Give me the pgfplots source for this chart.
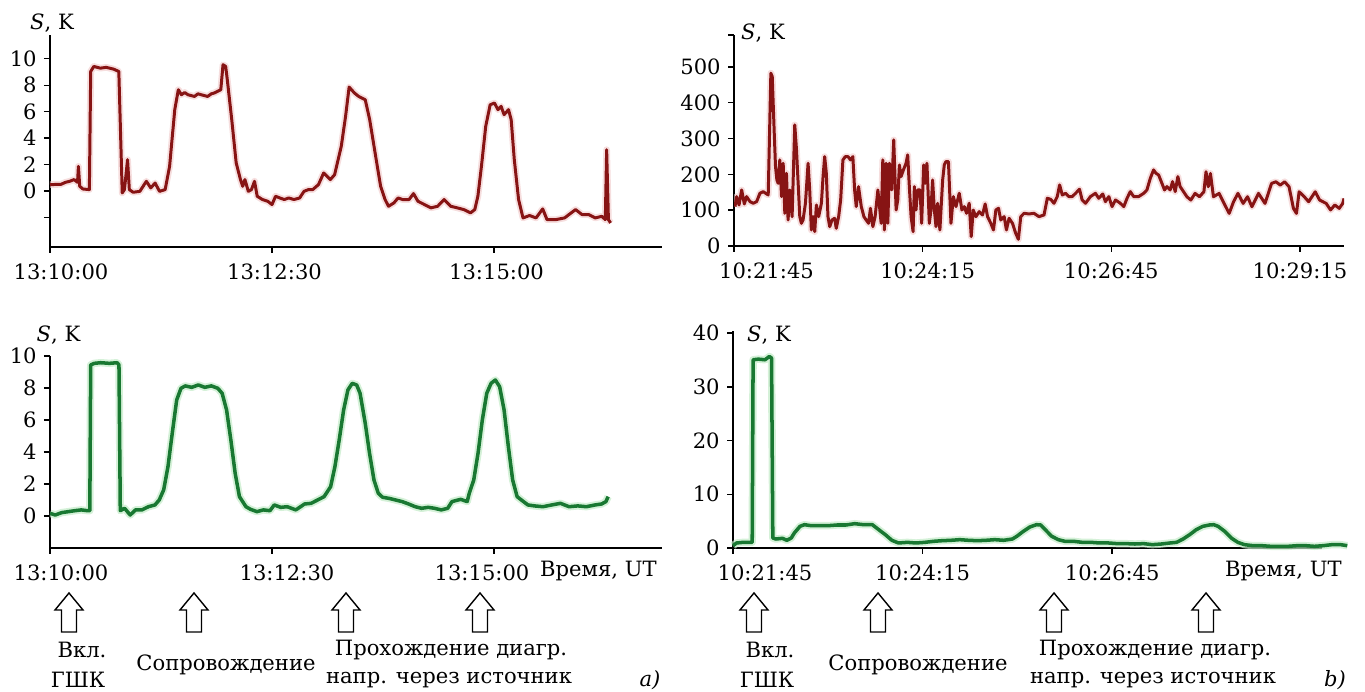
\documentclass[border=0pt]{standalone}
\usepackage{fontspec}
\setmainfont{DejaVu Serif}
\usepackage{pgfplots}
\usepackage{pgfplotstable}
\pgfplotsset{compat=1.18}
\definecolor{tred}{RGB}{135,20,20}
\definecolor{tredhalo}{RGB}{240,200,200}
\definecolor{tgreen}{RGB}{25,120,50}
\definecolor{tgreenhalo}{RGB}{195,235,200}

% panel a, upper trace (seconds after 13:10:00, S in K)
\pgfplotstableread{
t v
0 0.48
7.4 0.50
10.4 0.65
13.3 0.73
16.3 0.86
18.6 0.65
19.2 1.86
20.1 0.35
22.2 0.15
26.6 0.10
27.5 9.04
29.6 9.42
34.0 9.29
38.0 9.35
42.9 9.22
46.5 9.04
48.8 -0.15
50.3 0.10
52.4 2.37
53.6 0.10
56.2 -0.10
60.7 -0.03
65.1 0.73
68.1 0.23
71.0 0.60
74.0 -0.03
77.8 0.10
80.8 1.86
84.3 6.15
86.7 7.66
88.8 7.28
91.0 7.45
93.2 7.28
97.6 7.15
100.0 7.35
102.1 7.28
106.5 7.15
109.0 7.35
111.0 7.41
115.4 7.66
116.9 9.55
118.7 9.42
119.8 8.41
122.8 5.39
125.8 2.12
128.7 0.86
130.2 0.35
131.7 0.86
134.0 -0.03
136.1 0.10
138.2 0.73
140.0 -0.40
143.5 -0.65
147.1 -0.78
150.0 -1.03
152.4 -0.40
155.3 -0.53
158.3 -0.65
161.3 -0.53
164.8 -0.65
168.7 -0.53
171.6 -0.03
174.6 0.10
177.5 0.10
181.4 0.48
184.9 1.36
189.4 0.86
192.3 1.23
196.8 3.38
199.7 5.64
202.1 7.86
205.7 7.41
208.6 7.15
213.0 6.90
216.0 5.39
220.4 2.37
223.4 0.35
226.4 -0.65
228.7 -1.16
232.3 -0.91
235.2 -0.53
238.2 -0.65
242.6 -0.65
245.6 -0.20
248.6 -0.78
253.0 -1.03
257.4 -1.28
261.9 -1.16
266.3 -0.65
270.7 -1.16
275.2 -1.28
279.6 -1.41
284.1 -1.66
287.0 -1.41
289.1 -0.40
291.5 1.86
294.4 4.89
297.4 6.52
300.3 6.65
302.7 6.15
304.8 6.40
306.8 5.77
309.8 6.15
311.6 5.39
313.7 2.37
316.6 -0.65
319.6 -2.04
324.0 -1.86
328.4 -2.04
332.9 -1.36
335.8 -2.17
341.8 -2.17
347.7 -2.04
350.6 -1.79
355.1 -1.41
359.5 -1.79
364.0 -1.79
368.4 -2.04
372.8 -1.92
375.2 -2.17
376.1 3.12
377.3 -2.17
378.8 -2.42
}\dataAtop

% panel a, lower trace
\pgfplotstableread{
t v
0 0.17
3.5 0.06
7.9 0.21
12.3 0.27
16.7 0.33
21.1 0.38
25.5 0.33
26.9 0.33
27.5 9.44
29.9 9.54
34.3 9.58
40.1 9.54
45.4 9.58
46.6 9.44
47.5 0.33
50.4 0.48
54.2 0.06
57.7 0.38
62.1 0.38
66.5 0.58
70.9 0.69
73.8 1.00
76.8 1.63
79.7 3.08
82.6 5.17
85.6 7.25
88.5 7.98
91.4 8.13
95.8 8.04
100.2 8.19
104.6 8.04
109.0 8.13
113.4 7.98
116.3 7.67
119.3 6.63
122.2 4.75
125.1 2.67
128.0 1.21
132.4 0.58
135.4 0.42
139.8 0.27
144.2 0.38
148.6 0.33
151.5 0.69
155.9 0.54
160.3 0.58
166.1 0.38
172.0 0.75
176.4 0.79
180.8 1.00
185.2 1.21
189.6 1.83
192.5 3.08
195.4 4.75
198.4 6.63
201.3 7.88
204.2 8.29
207.2 8.19
209.5 7.67
213.0 5.79
215.9 3.92
218.9 2.25
221.8 1.42
224.7 1.17
229.1 1.10
233.5 1.00
237.9 0.90
242.3 0.75
246.7 0.58
251.1 0.48
255.5 0.54
259.9 0.48
264.3 0.38
268.7 0.48
271.6 0.90
277.5 1.04
281.9 0.90
283.3 1.42
286.3 2.25
289.2 3.92
292.1 6.00
295.1 7.67
298.0 8.29
300.9 8.50
303.8 8.08
306.8 6.63
309.7 4.33
312.6 2.25
315.6 1.21
318.5 1.00
322.9 0.69
327.3 0.63
333.1 0.58
339.0 0.69
344.9 0.79
350.7 0.58
356.6 0.63
362.4 0.58
368.3 0.69
372.7 0.75
375.6 0.90
377.1 1.21
}\dataAbot

% panel b, upper trace (seconds after 10:21:45)
\pgfplotstableread{
t v
0.8 109.9
2.1 137.8
4.0 114.5
6.1 156.4
8.2 117.3
10.0 137.8
12.7 123.8
15.3 119.2
18.0 123.8
20.6 147.1
23.2 151.8
27.2 142.4
29.3 482.3
30.4 473.0
32.0 314.7
33.0 221.6
34.1 184.3
35.1 175.0
36.4 240.2
37.8 137.8
39.1 230.9
40.4 91.2
41.7 203.0
43.0 72.6
44.4 156.4
46.2 81.9
48.3 338.0
49.7 268.1
51.0 175.0
52.3 81.9
53.6 63.3
54.9 72.6
56.8 119.2
58.9 230.9
60.2 156.4
61.5 44.7
62.9 81.9
64.2 40.0
65.5 114.5
67.3 81.9
69.5 119.2
70.8 193.6
72.1 249.5
73.4 203.0
74.7 81.9
76.1 54.0
77.9 72.6
80.0 77.3
81.3 49.3
83.2 81.9
84.8 128.5
86.6 240.2
88.5 249.5
90.6 249.5
92.7 240.2
94.5 249.5
95.9 156.4
97.2 109.9
99.0 165.7
101.2 109.9
103.3 81.9
105.1 72.6
107.0 63.3
108.5 105.2
110.4 54.0
112.2 81.9
114.4 156.4
115.7 109.9
117.0 63.3
118.3 240.2
119.6 44.7
121.0 230.9
122.3 63.3
123.6 230.9
125.4 156.4
127.0 296.1
128.9 100.5
130.2 128.5
131.5 226.2
132.8 193.6
134.7 212.3
136.8 230.9
138.1 254.2
139.4 165.7
140.8 81.9
142.4 40.0
143.4 165.7
144.7 100.5
146.0 156.4
147.9 156.4
149.2 63.3
150.8 226.2
152.1 175.0
153.4 230.9
155.3 63.3
156.6 100.5
157.9 184.3
159.3 100.5
160.6 54.0
161.9 119.2
163.7 44.7
165.9 184.3
167.2 226.2
168.5 235.5
170.5 235.5
172.5 63.3
174.4 137.8
176.5 109.9
179.1 147.1
181.2 100.5
183.1 109.9
184.9 91.2
187.0 119.2
188.6 26.1
190.2 100.5
192.3 81.9
195.0 95.9
197.6 86.6
199.7 117.3
201.6 81.9
204.2 63.3
206.3 44.7
208.2 100.5
210.3 105.2
212.1 72.6
214.8 81.9
216.6 44.7
218.7 77.3
221.4 63.3
224.0 35.4
226.1 18.6
228.0 81.9
230.6 91.2
234.6 89.4
238.5 91.2
242.5 81.9
246.5 86.6
249.1 133.1
251.8 130.3
254.4 119.2
257.0 137.8
258.9 170.4
261.0 142.4
263.6 147.1
266.3 137.8
268.9 137.8
271.6 147.1
274.7 158.3
276.8 128.5
279.5 119.2
283.4 137.8
287.4 147.1
290.0 133.1
293.2 145.2
295.3 123.8
298.0 137.8
300.6 109.9
303.3 128.5
307.2 119.2
309.9 109.9
312.5 133.1
315.1 151.8
317.8 137.8
321.7 137.8
325.7 147.1
328.3 156.4
331.0 189.0
333.6 212.3
335.5 203.0
337.6 198.3
339.7 179.7
342.3 156.4
344.2 165.7
346.8 156.4
348.7 179.7
350.8 151.8
352.9 193.6
354.7 165.7
357.4 151.8
360.0 137.8
363.2 128.2
366.6 146.8
370.1 137.5
373.6 151.4
375.3 207.2
377.1 165.4
378.8 202.5
381.2 137.5
385.7 146.8
391.0 109.6
393.7 91.0
397.2 123.6
400.7 146.8
404.8 118.9
408.3 137.5
411.8 109.6
417.0 146.8
422.2 118.9
427.4 174.7
430.9 179.3
434.3 170.0
437.8 179.3
441.3 165.4
444.8 105.0
447.2 91.0
449.3 151.4
453.4 137.5
456.9 123.6
462.1 151.4
465.6 128.2
470.8 118.9
474.3 100.5
477.7 114.5
481.2 105.0
484.0 118.9
485.0 132.8
}\dataBtop

% panel b, lower trace
\pgfplotstableread{
t v
0 0.43
2.8 0.93
8.0 1.05
13.2 1.05
15.2 1.05
15.9 35.04
20.1 35.16
25.3 35.04
28.8 35.66
30.5 35.35
31.5 1.86
33.9 1.67
39.1 1.80
42.6 1.43
46.1 1.86
48.5 2.79
53.0 4.03
56.5 4.34
61.7 4.16
68.6 4.16
75.5 4.16
82.4 4.28
89.4 4.28
96.3 4.53
103.2 4.34
110.2 4.34
115.3 3.41
120.5 2.48
125.7 1.43
130.9 0.93
137.9 1.05
144.8 0.93
151.7 1.05
158.7 1.24
165.6 1.36
172.5 1.43
179.4 1.55
186.4 1.43
193.3 1.36
200.2 1.43
207.1 1.55
214.1 1.43
221.0 1.67
224.5 2.17
229.7 3.10
234.9 3.91
240.1 4.34
243.5 4.28
247.0 3.41
252.2 2.17
257.4 1.55
262.6 1.24
269.5 1.24
276.4 1.05
283.4 1.05
290.3 0.93
297.2 0.93
304.1 0.81
311.1 0.81
318.0 0.74
324.9 0.81
331.8 0.62
338.8 0.74
345.7 0.93
350.9 1.05
356.1 1.67
361.3 2.48
366.5 3.41
371.7 4.03
376.9 4.28
380.3 4.34
383.8 4.03
389.0 3.10
394.2 1.86
399.4 1.05
404.6 0.62
411.5 0.43
418.4 0.43
425.4 0.31
432.3 0.31
439.2 0.31
446.2 0.43
453.1 0.43
460.0 0.31
466.9 0.43
473.9 0.62
480.8 0.62
486.0 0.43
}\dataBbot

\pgfplotsset{
  panel/.style={
    scale only axis,
    anchor=south west,
    axis lines*=left,
    tick align=outside,
    major tick length=0.12cm,
    axis line style={line width=0.8pt,black},
    every tick/.style={line width=0.8pt,black},
    /pgf/number format/assume math mode=true,
    font=\fontsize{12}{14}\selectfont,
    xticklabel style={yshift=-0.06cm},
  },
  redline/.style={tred,line width=1.7pt,line join=round},
  redhalo/.style={tredhalo,line width=3.8pt,line join=round,opacity=0.6},
  greenline/.style={tgreen,line width=2pt,line join=round},
  greenhalo/.style={tgreenhalo,line width=4.2pt,line join=round,opacity=0.7},
}

\newcommand{\evtarrow}[2]{%
  \draw[line width=0.8pt,black] (#1-0.15,#2) -- ++(0,0.44) -- ++(-0.13,0)
     -- (#1,#2+0.78) -- (#1+0.28,#2+0.44) -- ++(-0.13,0) -- (#1+0.15,#2) -- cycle;}

\begin{document}
\fontsize{12}{14}\selectfont
\begin{tikzpicture}[font=\fontsize{12}{14}\selectfont]
\useasboundingbox (0,0) rectangle (27.3,13.84);

% ---- panel a, top
\begin{axis}[panel, at={(1.0cm,8.9cm)}, width=12.24cm, height=4.24cm,
  xmin=0, xmax=413.5, ymin=-4.24, ymax=11.8,
  xtick={0,150,300},
  xticklabels={\hspace*{0.44cm}13:10:00,\hspace*{0.1cm}13:12:30,\hspace*{0.1cm}13:15:00},
  ytick={-2,0,2,4,6,8,10}, yticklabels={,0,2,4,6,8,10}]
\addplot[redhalo] table[x=t,y=v] {\dataAtop};
\addplot[redline] table[x=t,y=v] {\dataAtop};
\end{axis}

% ---- panel b, top
\begin{axis}[panel, at={(14.68cm,8.92cm)}, width=12.2cm, height=4.22cm,
  xmin=0, xmax=485, ymin=0, ymax=589,
  xtick={0,150,300,450},
  xticklabels={\hspace*{1.3cm}10:21:45,\hspace*{0.2cm}10:24:15,10:26:45,10:29:15},
  ytick={0,100,200,300,400,500,589}, yticklabels={0,100,200,300,400,500,}]
\addplot[redhalo] table[x=t,y=v] {\dataBtop};
\addplot[redline] table[x=t,y=v] {\dataBtop};
\end{axis}

% ---- panel a, bottom
\begin{axis}[panel, at={(1.0cm,2.88cm)}, width=12.24cm, height=3.84cm,
  xmin=0, xmax=413.5, ymin=-2, ymax=10,
  xtick={0,150,300},
  xticklabels={\hspace*{0.44cm}13:10:00,\hspace*{0.6cm}13:12:30,13:15:00\hspace*{0.48cm}},
  ytick={0,2,4,6,8,10}]
\addplot[greenhalo] table[x=t,y=v] {\dataAbot};
\addplot[greenline] table[x=t,y=v] {\dataAbot};
\end{axis}

% ---- panel b, bottom
\begin{axis}[panel, at={(14.66cm,2.88cm)}, width=11.78cm, height=4.34cm,
  xmin=0, xmax=466, ymin=0, ymax=40.4, clip=false,
  xtick={0,150,300},
  xticklabels={\hspace*{1.28cm}10:21:45,10:24:15,10:26:45},
  ytick={0,10,20,30,40}]
\addplot[greenhalo] table[x=t,y=v] {\dataBbot};
\addplot[greenline] table[x=t,y=v] {\dataBbot};
\end{axis}

% axis titles
\node at (1.04,13.38) {\textit{S}, K};
\node at (15.26,13.18) {\textit{S}, K};
\node at (1.17,7.14) {\textit{S}, K};
\node at (15.38,7.14) {\textit{S}, K};
\node[anchor=east] at (13.28,2.42) {Время, UT};
\node[anchor=east] at (26.98,2.42) {Время, UT};

% event arrows and captions
\evtarrow{1.38}{1.2}
\evtarrow{3.88}{1.2}
\evtarrow{6.92}{1.2}
\evtarrow{9.60}{1.2}
\evtarrow{15.08}{1.2}
\evtarrow{17.56}{1.2}
\evtarrow{21.08}{1.2}
\evtarrow{24.12}{1.2}

\node at (1.64,0.84) {Вкл.};
\node at (1.56,0.24) {ГШК};
\node at (4.52,0.54) {Сопровождение};
\node at (9.02,0.84) {Прохождение диагр.};
\node at (8.98,0.24) {напр. через источник};
\node at (13.0,0.24) {\textit{a)}};

\node at (15.40,0.84) {Вкл.};
\node at (15.34,0.24) {ГШК};
\node at (18.36,0.54) {Сопровождение};
\node at (23.10,0.84) {Прохождение диагр.};
\node at (23.06,0.24) {напр. через источник};
\node at (26.70,0.24) {\textit{b)}};
\end{tikzpicture}
\end{document}
